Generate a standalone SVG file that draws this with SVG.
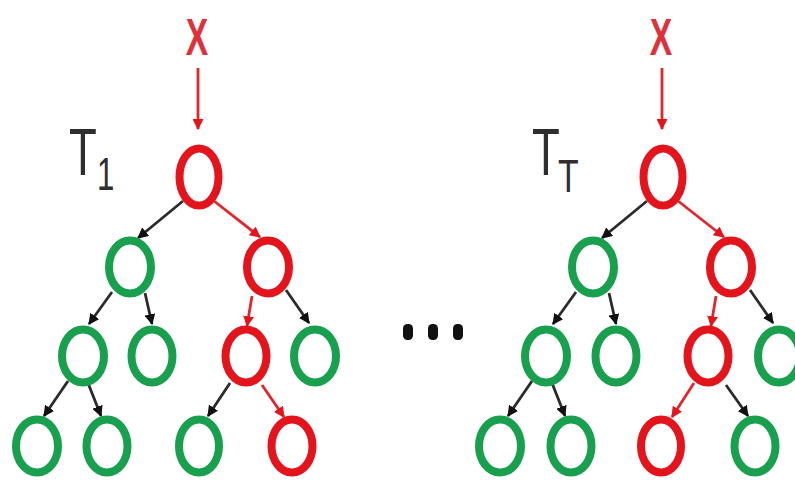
<svg xmlns="http://www.w3.org/2000/svg" width="795" height="481" viewBox="0 0 795 481">
  <style>
    .red { fill: none; stroke: #e3141c; stroke-width: 8; }
    .green { fill: none; stroke: #18a04e; stroke-width: 8; }
    .e-black { stroke: #2b2b2b; stroke-width: 2.8; marker-end: url(#head-black); }
    .e-red { stroke: #e3262c; stroke-width: 2.8; marker-end: url(#head-red); }
    .lbl { font-family: "Liberation Sans", Arial, sans-serif; fill: #2e2e2e; }
    .x { font-family: "Liberation Sans", Arial, sans-serif; font-weight: bold; fill: #e0303a; }
    .dot { fill: #111; }
  </style>
  <defs>
    <marker id="head-black" viewBox="0 0 10 10" refX="9" refY="5" markerUnits="userSpaceOnUse" markerWidth="11" markerHeight="11" orient="auto">
      <path d="M0,0 L10,5 L0,10 z" fill="#111"/>
    </marker>
    <marker id="head-red" viewBox="0 0 10 10" refX="9" refY="5" markerUnits="userSpaceOnUse" markerWidth="11" markerHeight="11" orient="auto">
      <path d="M0,0 L10,5 L0,10 z" fill="#e3141c"/>
    </marker>
  </defs>

  <rect width="795" height="481" fill="#ffffff"/>

  <!-- connectors -->
  <g id="connectors">
    <!-- first tree -->
    <line class="e-red" x1="198" y1="68" x2="198" y2="129"/>
    <line class="e-black" x1="183" y1="201" x2="138" y2="238"/>
    <line class="e-red" x1="214" y1="201" x2="260" y2="237"/>
    <line class="e-black" x1="112" y1="292" x2="89" y2="324"/>
    <line class="e-black" x1="145" y1="293" x2="152" y2="324"/>
    <line class="e-red" x1="252" y1="296" x2="247" y2="326"/>
    <line class="e-black" x1="286" y1="290" x2="309" y2="323"/>
    <line class="e-black" x1="68" y1="381" x2="44" y2="416"/>
    <line class="e-black" x1="88" y1="383" x2="101" y2="416"/>
    <line class="e-black" x1="230" y1="383" x2="208" y2="416"/>
    <line class="e-red" x1="262" y1="385" x2="284" y2="417"/>
    <!-- last tree -->
    <line class="e-red" x1="662" y1="68" x2="662" y2="129"/>
    <line class="e-black" x1="647" y1="201" x2="602" y2="238"/>
    <line class="e-red" x1="678" y1="201" x2="724" y2="237"/>
    <line class="e-black" x1="576" y1="292" x2="553" y2="324"/>
    <line class="e-black" x1="609" y1="293" x2="616" y2="324"/>
    <line class="e-red" x1="716" y1="296" x2="711" y2="326"/>
    <line class="e-black" x1="750" y1="290" x2="773" y2="323"/>
    <line class="e-black" x1="532" y1="381" x2="508" y2="416"/>
    <line class="e-black" x1="552" y1="383" x2="565" y2="416"/>
    <line class="e-red" x1="694" y1="383" x2="672" y2="417"/>
    <line class="e-black" x1="726" y1="385" x2="748" y2="416"/>
  </g>

  <!-- labels -->
  <g id="label-t1">
    <text class="x" transform="translate(197,55) scale(0.66,1)" font-size="51" text-anchor="middle">X</text>
    <text class="lbl" transform="translate(69,175) scale(0.68,1)" font-size="67">T</text>
    <text class="lbl" transform="translate(97,190) scale(0.68,1)" font-size="46">1</text>
  </g>
  <g id="label-tT">
    <text class="x" transform="translate(661,55) scale(0.66,1)" font-size="51" text-anchor="middle">X</text>
    <text class="lbl" transform="translate(532,175) scale(0.68,1)" font-size="67">T</text>
    <text class="lbl" transform="translate(558,192) scale(0.72,1)" font-size="47">T</text>
  </g>

  <!-- first tree nodes -->
  <g id="t1-root"><ellipse class="red" cx="199" cy="177" rx="19.5" ry="28.5"/></g>
  <g id="t1-l2a"><ellipse class="green" cx="130" cy="267" rx="21" ry="26.5"/></g>
  <g id="t1-l2b"><ellipse class="red" cx="268" cy="267" rx="21" ry="26.5"/></g>
  <g id="t1-l3a"><ellipse class="green" cx="83" cy="356" rx="21" ry="26.5"/></g>
  <g id="t1-l3b"><ellipse class="green" cx="152" cy="356" rx="20.5" ry="26.5"/></g>
  <g id="t1-l3c"><ellipse class="red" cx="246" cy="356" rx="20.5" ry="26.5"/></g>
  <g id="t1-l3d"><ellipse class="green" cx="315" cy="356" rx="21" ry="26.5"/></g>
  <g id="t1-l4a"><ellipse class="green" cx="37" cy="446" rx="21" ry="26.5"/></g>
  <g id="t1-l4b"><ellipse class="green" cx="107" cy="446" rx="20.5" ry="26.5"/></g>
  <g id="t1-l4c"><ellipse class="green" cx="199" cy="446" rx="20" ry="26.5"/></g>
  <g id="t1-l4d"><ellipse class="red" cx="292" cy="446" rx="20.5" ry="26.5"/></g>

  <!-- ellipsis between trees -->
  <g id="ellipsis">
    <rect class="dot" x="403" y="324" width="10" height="16" rx="4.5"/>
    <rect class="dot" x="428" y="324" width="10" height="16" rx="4.5"/>
    <rect class="dot" x="453" y="324" width="10" height="16" rx="4.5"/>
  </g>

  <!-- last tree nodes -->
  <g id="tT-root"><ellipse class="red" cx="663" cy="177" rx="19.5" ry="28.5"/></g>
  <g id="tT-l2a"><ellipse class="green" cx="593" cy="267" rx="21" ry="26.5"/></g>
  <g id="tT-l2b"><ellipse class="red" cx="731" cy="267" rx="21" ry="26.5"/></g>
  <g id="tT-l3a"><ellipse class="green" cx="546" cy="356" rx="21" ry="26.5"/></g>
  <g id="tT-l3b"><ellipse class="green" cx="616" cy="356" rx="20.5" ry="26.5"/></g>
  <g id="tT-l3c"><ellipse class="red" cx="708" cy="356" rx="20.5" ry="26.5"/></g>
  <g id="tT-l3d"><ellipse class="green" cx="779" cy="356" rx="21" ry="26.5"/></g>
  <g id="tT-l4a"><ellipse class="green" cx="500" cy="446" rx="21" ry="26.5"/></g>
  <g id="tT-l4b"><ellipse class="green" cx="571" cy="446" rx="20.5" ry="26.5"/></g>
  <g id="tT-l4c"><ellipse class="red" cx="661" cy="446" rx="20" ry="26.5"/></g>
  <g id="tT-l4d"><ellipse class="green" cx="755" cy="446" rx="20.5" ry="26.5"/></g>
</svg>
